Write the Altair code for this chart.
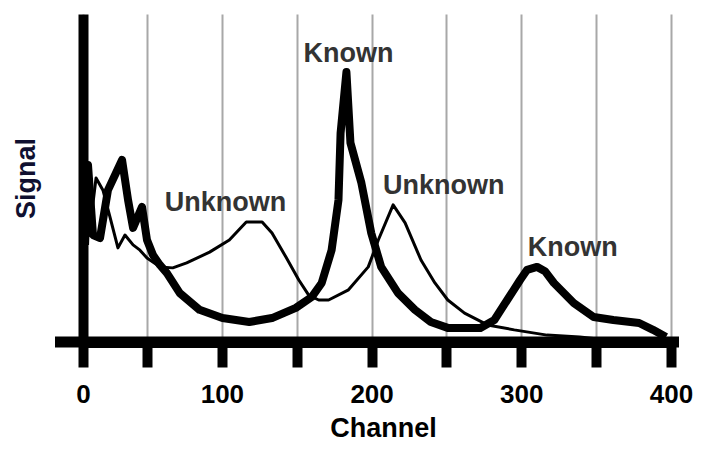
import altair as alt
import pandas as pd

# Known (thick trace)
known_x = [1.6, 3.9, 7.8, 13.3, 19.5, 30.5, 35.2, 39.1, 46.1, 50.0, 54.0, 58.6, 63.3, 71.9, 85.1,
           100.4, 118.3, 133.5, 149.4, 160.0, 166.7, 173.3, 177.9, 179.3, 183.2, 185.9, 193.2,
           199.8, 206.4, 217.7, 229.0, 239.6, 250.9, 272.7, 282.0, 290.6, 299.2, 303.9, 310.5,
           315.8, 321.8, 335.0, 348.3, 361.5, 378.7, 388.0, 396.7]
known_y = [29.6, 54.0, 32.6, 31.7, 46.3, 55.5, 43.3, 34.8, 41.2, 31.1, 26.5, 23.5, 21.0, 14.9, 9.8,
           7.3, 6.1, 7.3, 10.4, 13.7, 18.0, 28.0, 43.3, 63.7, 82.3, 60.7, 48.5,
           33.2, 22.9, 14.9, 9.8, 6.1, 4.3, 4.3, 6.7, 12.8, 18.9, 22.0, 22.9,
           21.6, 18.0, 11.9, 7.6, 6.7, 5.8, 3.7, 1.5]

# Unknown (thin trace)
unknown_x = [2.3, 4.7, 10.2, 15.6, 21.1, 27.3, 32.8, 39.1, 44.5, 50.0, 58.6, 67.2, 76.5, 91.8,
             105.0, 116.3, 126.9, 133.5, 142.8, 151.4, 158.0, 164.7, 171.3, 184.6, 197.8, 204.5,
             214.4, 222.4, 233.0, 242.3, 250.9, 262.1, 277.4, 295.3, 317.2, 339.0, 363.6]
unknown_y = [49.4, 32.6, 50.0, 46.3, 38.1, 28.7, 32.6, 29.6, 28.0, 25.6, 22.9, 22.6, 24.1, 27.4,
             31.1, 36.6, 36.6, 33.2, 25.9, 18.9, 14.3, 12.8, 12.8, 15.9, 22.9, 31.1,
             41.8, 36.3, 25.0, 18.0, 12.8, 8.8, 5.2, 3.7, 2.1, 1.5, 0.3]

# Annotations
ann_text = ["Unknown", "Known", "Unknown", "Known"]
ann_x = [102.4, 184.6, 248.2, 334.4]
ann_y = [42.4, 87.8, 47.6, 28.7]

tick_values = [0, 50, 100, 150, 200, 250, 300, 350, 400]

W, H = 588, 328
FONT = "Liberation Sans"

known = pd.DataFrame({"x": known_x, "y": known_y, "i": range(len(known_x))})
unknown = pd.DataFrame({"x": unknown_x, "y": unknown_y, "i": range(len(unknown_x))})
ann = pd.DataFrame({"x": ann_x, "y": ann_y, "t": ann_text})

xscale = alt.Scale(domain=[0, 50, 400], range=[0, 64, W])
yscale = alt.Scale(domain=[0, 100])

xaxis = alt.Axis(
    values=tick_values,
    labelExpr="datum.value % 100 == 0 ? datum.label : ''",
    grid=True, gridColor="#a8a8a8", gridWidth=2,
    domain=True, domainColor="black", domainWidth=11,
    ticks=True, tickColor="black", tickWidth=10, tickSize=25,
    labelFont=FONT, labelFontSize=26, labelFontWeight="bold", labelColor="black",
    labelPadding=14, labelFlush=False, labelOverlap=False,
    title="Channel", titleFont=FONT, titleFontSize=27, titleFontWeight="bold",
    titleColor="black", titleX=300, titleY=94, titleBaseline="alphabetic", titleAlign="center",
)
yaxis = alt.Axis(
    grid=False, ticks=False, labels=False,
    domain=True, domainColor="black", domainWidth=10,
    title="Signal", titleFont=FONT, titleFontSize=27, titleFontWeight="bold",
    titleColor="#101030", titleX=-57, titleY=164, titleAngle=270,
    titleBaseline="middle", titleAlign="center",
)

base_x = alt.X("x:Q", scale=xscale, axis=xaxis)
base_y = alt.Y("y:Q", scale=yscale, axis=yaxis)

thin = alt.Chart(unknown).mark_line(color="black", strokeWidth=3, strokeJoin="round").encode(
    x=base_x, y=base_y, order="i:Q")
thick = alt.Chart(known).mark_line(color="black", strokeWidth=8, strokeJoin="round").encode(
    x=alt.X("x:Q", scale=xscale), y=alt.Y("y:Q", scale=yscale), order="i:Q")

axis_ext = alt.Chart(pd.DataFrame({"a": [0]})).mark_rule(color="black", strokeWidth=11).encode(
    x=alt.value(-28), x2=alt.value(W + 8), y=alt.value(H))

labels = alt.Chart(ann).mark_text(font=FONT, fontSize=27, fontWeight="bold", color="#333333",
                                  align="center", baseline="middle").encode(
    x=alt.X("x:Q", scale=xscale), y=alt.Y("y:Q", scale=yscale), text="t:N")

chart = alt.layer(thin, thick, axis_ext, labels).properties(
    width=W, height=H,
    autosize=alt.AutoSizeParams(type="none"),
    padding={"left": 75, "top": 6, "right": 22, "bottom": 100},
    background="white",
).configure_view(stroke=None)

chart.save("out.html", embed_options={"renderer": "svg", "actions": False})
